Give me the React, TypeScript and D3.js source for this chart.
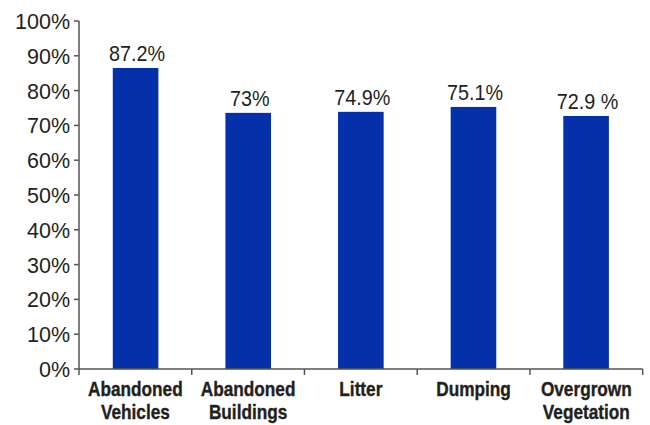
import React from "react";
import * as d3 from "d3";

const categories = [["Abandoned", "Vehicles"], ["Abandoned", "Buildings"], ["Litter"], ["Dumping"], ["Overgrown", "Vegetation"]];
const barValues = [86.5, 73.6, 73.9, 75.3, 72.7];
const barLabels = ["87.2%", "73%", "74.9%", "75.1%", "72.9 %"];
const yTicks = [0, 10, 20, 30, 40, 50, 60, 70, 80, 90, 100];

const W = 650, H = 425;
const left = 79, right = 642.7, top = 21, bottom = 369;

export default function App() {
  const x = d3.scaleBand<number>().domain(d3.range(categories.length)).range([left, right]).paddingInner(0.595).paddingOuter(0.3);
  const y = d3.scaleLinear().domain([0, 100]).range([bottom, top]);
  const step = (right - left) / categories.length;
  const textColor = "#231f20";
  const axisColor = "#555";
  return (
    <svg width={W} height={H} style={{ position: "absolute", left: 0, top: 0 }} fontFamily="'Liberation Sans', Arial, sans-serif">
      <rect width={W} height={H} fill="#fff" />
      {barValues.map((v, i) => (
        <rect key={i} x={x(i)} y={y(v)} width={x.bandwidth()} height={bottom - y(v)} fill="#0431AA" />
      ))}
      {barValues.map((v, i) => (
        <text key={"l" + i} transform={`translate(${(x(i) as number) + x.bandwidth() / 2 + 1.5},${y(v) - 7}) scale(0.9,1)`} textAnchor="middle" fontSize={22} fill={textColor}>{barLabels[i]}</text>
      ))}
      <line x1={left} x2={left} y1={top} y2={bottom} stroke={axisColor} strokeWidth={1.5} />
      <line x1={left} x2={right} y1={bottom} y2={bottom} stroke={axisColor} strokeWidth={1.5} />
      {yTicks.map((t) => (
        <g key={t}>
          <line x1={left - 5} x2={left} y1={y(t)} y2={y(t)} stroke={axisColor} strokeWidth={1.5} />
          <text x={left - 9} y={y(t) + 8} textAnchor="end" fontSize={21.5} fill={textColor}>{t}%</text>
        </g>
      ))}
      {d3.range(categories.length + 1).map((i) => (
        <line key={"xt" + i} x1={left + i * step} x2={left + i * step} y1={bottom} y2={bottom + 6} stroke={axisColor} strokeWidth={1.5} />
      ))}
      {categories.map((lines, i) => (
        <g key={"c" + i}>
          {lines.map((ln, j) => (
            <text key={j} transform={`translate(${left + (i + 0.5) * step},${396 + j * 23}) scale(0.82,1)`} textAnchor="middle" fontSize={21} fontWeight="bold" fill={textColor} stroke={textColor} strokeWidth={0.4}>{ln}</text>
          ))}
        </g>
      ))}
    </svg>
  );
}
